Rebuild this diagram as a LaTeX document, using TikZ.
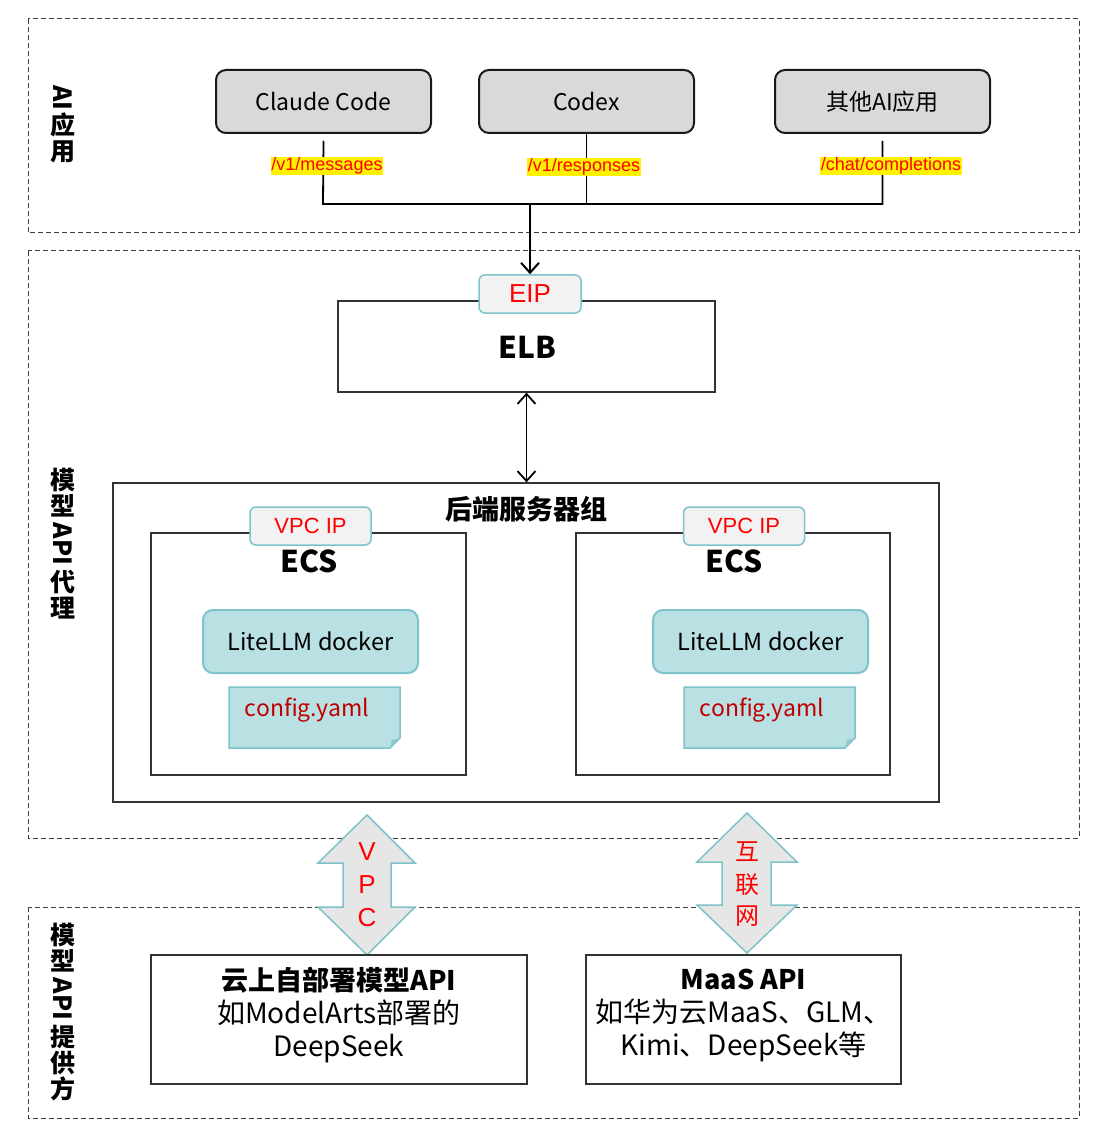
\documentclass[tikz,border=0pt]{standalone}
\usepackage{fontspec}
\setmainfont{Noto Sans CJK SC}
\newfontfamily\arialf{Liberation Sans}
\usetikzlibrary{arrows.meta}
\definecolor{appgray}{HTML}{D9D9D9}
\definecolor{badgegray}{HTML}{F2F2F2}
\definecolor{tealb}{HTML}{7DC3C9}
\definecolor{dockfill}{HTML}{B9E0E3}
\definecolor{foldc}{HTML}{8CC9CE}
\definecolor{arrgray}{HTML}{E6E6E6}
\definecolor{cfgred}{HTML}{C00000}
\begin{document}
\begin{tikzpicture}[x=1pt,y=-1pt,
  zone/.style={draw=black!75, line width=1pt, dash pattern=on 5pt off 3pt},
  app/.style={draw=black!90, line width=2pt, fill=appgray, rounded corners=10pt,
    minimum width=215, minimum height=63, font=\fontsize{23}{26}\selectfont},
  conn/.style={draw=black, line width=1.8pt},
  lbl/.style={fill=yellow, text=red, inner sep=0.5pt, font=\arialf\fontsize{18}{20}\selectfont},
  badge/.style={draw=tealb, line width=1.5pt, fill=badgegray, rounded corners=6pt,
    text=red, font=\arialf\fontsize{22}{24}\selectfont},
  plainbox/.style={draw=black!80, line width=1.2pt, fill=white},
  docker/.style={draw=tealb, line width=2pt, fill=dockfill, rounded corners=10pt,
    minimum width=215, minimum height=63, font=\fontsize{23.5}{26}\selectfont},
  biglabel/.style={font=\bfseries\fontsize{30}{34}\selectfont},
  vch/.style={font=\bfseries\fontsize{25}{27}\selectfont, inner sep=0pt},
  vlat/.style={font=\bfseries\fontsize{25}{27}\selectfont, inner sep=0pt, rotate=-90},
  dbl/.style={draw=tealb, line width=1.5pt, fill=arrgray},
  arrtext/.style={text=red, font=\arialf\fontsize{26}{28}\selectfont},
  cfgtext/.style={text=cfgred, font=\fontsize{23}{26}\selectfont},
  provtext/.style={align=center, font=\fontsize{28}{33}\selectfont}
]
\useasboundingbox (0,0) rectangle (1108,1131);
\fill[white] (0,0) rectangle (1108,1131);

% zones
\draw[zone] (28,19) rectangle (1079,233);
\draw[zone] (28,251) rectangle (1079,838);
\draw[zone] (28,907) rectangle (1079,1118);

% vertical labels
\node[vlat] (z1a) at (63,98) {AI};
\node[vch] (z1b) at (63,125) {应};
\node[vch] (z1c) at (63,152) {用};

\node[vch] (z2a) at (63,480) {模};
\node[vch] (z2b) at (63,506) {型};
\node[vlat] (z2c) at (63,544) {API};
\node[vch] (z2d) at (63,582) {代};
\node[vch] (z2e) at (63,608) {理};

\node[vch] (z3a) at (63,935) {模};
\node[vch] (z3b) at (63,961) {型};
\node[vlat] (z3c) at (63,999) {API};
\node[vch] (z3d) at (63,1037) {提};
\node[vch] (z3e) at (63,1063) {供};
\node[vch] (z3f) at (63,1089) {方};

% AI apps
\node[app] (claude) at (323.5,101.5) {Claude Code};
\node[app] (codex) at (586.5,101.5) {Codex};
\node[app] (other) at (882.5,101.5) {其他AI应用};

\coordinate (busL) at (323,204);
\coordinate (busM) at (530,204);
\coordinate (busC) at (586.5,204);
\coordinate (busR) at (882.5,204);
\draw[conn] ([yshift=-7pt]claude.south) -- (busL) -- (busR) -- ([yshift=-7pt]other.south);
\draw[conn] (codex.south) -- (busC);

\node[lbl] (l1) at (327,166) {/v1/messages};
\node[lbl] (l2) at (584,167) {/v1/responses};
\node[lbl] (l3) at (891,166) {/chat/completions};

% ELB
\node[plainbox, minimum width=377, minimum height=91] (elb) at (526.5,346.5) {};
\node[biglabel] (elbt) at (527,347) {ELB};
\node[badge, minimum width=102, minimum height=38, font=\arialf\fontsize{26}{28}\selectfont] (eip) at (530,294) {EIP};
\draw[conn, -{Straight Barb[length=10pt,width=18pt,line width=2pt]}] (busM) -- (eip.north);

% backend group
\node[plainbox, minimum width=826, minimum height=319] (group) at (526,642.5) {};
\node[font=\bfseries\fontsize{27}{30}\selectfont] (groupt) at (526,509) {后端服务器组};
\draw[line width=1.8pt, {Straight Barb[length=10pt,width=18pt,line width=1.8pt]}-{Straight Barb[length=10pt,width=18pt,line width=1.8pt]}]
  (elb.south) -- (elb.south |- group.north);

% left ECS
\node[plainbox, minimum width=315, minimum height=242] (ecs1) at (308.5,654) {};
\node[badge, minimum width=121, minimum height=38] (vpc1) at (310.5,526) {VPC IP};
\node[biglabel] (ecs1t) at (309,561) {ECS};
\node[docker] (dk1) at (310.5,641.5) {LiteLLM docker};
\fill[dockfill] (229,687) -- (400,687) -- (400,738) -- (390,748) -- (229,748) -- cycle;
\draw[tealb, line width=1.5pt] (229,687) -- (400,687) -- (400,738) -- (390,748) -- (229,748) -- cycle;
\fill[foldc] (400,738) -- (392,740) -- (390,748) -- cycle;
\node[cfgtext] (cfg1) at (307,710) {config.yaml};

% right ECS
\node[plainbox, minimum width=314, minimum height=242] (ecs2) at (733,654) {};
\node[badge, minimum width=121, minimum height=38] (vpc2) at (744,526) {VPC IP};
\node[biglabel] (ecs2t) at (734,561) {ECS};
\node[docker] (dk2) at (760.5,641.5) {LiteLLM docker};
\fill[dockfill] (684,687) -- (855,687) -- (855,738) -- (845,748) -- (684,748) -- cycle;
\draw[tealb, line width=1.5pt] (684,687) -- (855,687) -- (855,738) -- (845,748) -- (684,748) -- cycle;
\fill[foldc] (855,738) -- (847,740) -- (845,748) -- cycle;
\node[cfgtext] (cfg2) at (762,710) {config.yaml};

% double arrows
\draw[dbl] (367,815) -- (415,863) -- (391,863) -- (391,907) -- (415,907) -- (367,955)
  -- (318,907) -- (343,907) -- (343,863) -- (318,863) -- cycle;
\node[arrtext] (av) at (367,852) {V};
\node[arrtext] (ap) at (367,885) {P};
\node[arrtext] (ac) at (367,918) {C};

\draw[dbl] (747,813) -- (797,862) -- (771,862) -- (771,905) -- (797,905) -- (747,953)
  -- (697,905) -- (722,905) -- (722,862) -- (697,862) -- cycle;
\node[text=red, font=\fontsize{24}{26}\selectfont] (i1) at (747,852) {互};
\node[text=red, font=\fontsize{24}{26}\selectfont] (i2) at (747,885) {联};
\node[text=red, font=\fontsize{24}{26}\selectfont] (i3) at (747,916) {网};

% providers
\node[plainbox, minimum width=376, minimum height=129] (prov1) at (339,1019.5) {};
\node[provtext] (prov1t) at (339,1015) {\textbf{\fontsize{27}{33}\selectfont 云上自部署模型API}\\如ModelArts部署的\\DeepSeek};
\node[plainbox, minimum width=315, minimum height=129] (prov2) at (743.5,1019.5) {};
\node[provtext] (prov2t) at (743.5,1015) {\textbf{\fontsize{27}{33}\selectfont MaaS API}\\如华为云MaaS、GLM、\\Kimi、DeepSeek等};
\end{tikzpicture}
\end{document}
